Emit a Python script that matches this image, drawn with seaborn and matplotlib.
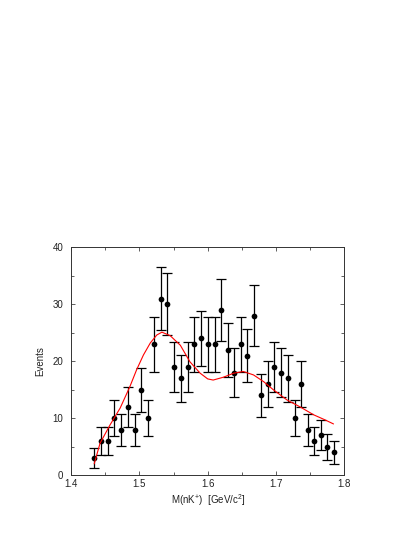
import matplotlib
matplotlib.use("Agg")
import matplotlib.pyplot as plt
import seaborn as sns
import pandas as pd

# measured points (bin centres in GeV/c^2) and event counts
mass = [1.434, 1.444, 1.454, 1.463, 1.473, 1.483, 1.493, 1.502, 1.512, 1.522,
        1.532, 1.541, 1.551, 1.561, 1.571, 1.580, 1.590, 1.600, 1.610, 1.619,
        1.629, 1.639, 1.649, 1.658, 1.668, 1.678, 1.688, 1.697, 1.707, 1.717,
        1.727, 1.736, 1.746, 1.756, 1.766, 1.775, 1.785]
events = [3, 6, 6, 10, 8, 12, 8, 15, 10, 23,
          31, 30, 19, 17, 19, 23, 24, 23, 23, 29,
          22, 18, 23, 21, 28, 14, 16, 19, 18, 17,
          10, 16, 8, 6, 7, 5, 4]
errors = [1.73, 2.45, 2.45, 3.16, 2.83, 3.46, 2.83, 3.87, 3.16, 4.80,
          5.57, 5.48, 4.36, 4.12, 4.36, 4.80, 4.90, 4.80, 4.80, 5.39,
          4.69, 4.24, 4.80, 4.58, 5.29, 3.74, 4.00, 4.36, 4.24, 4.12,
          3.16, 4.00, 2.83, 2.45, 2.65, 2.24, 2.00]

# fitted curve (red)
fit_mass = [1.434, 1.4425, 1.457, 1.472, 1.486, 1.496, 1.506, 1.516, 1.5255, 1.533,
            1.545, 1.560, 1.574, 1.589, 1.600, 1.608, 1.623, 1.638, 1.652, 1.667,
            1.682, 1.696, 1.716, 1.735, 1.755, 1.770, 1.784]
fit_events = [2.0, 5.6, 8.8, 11.8, 15.5, 18.5, 21.1, 23.2, 24.6, 25.1,
              24.5, 22.8, 19.9, 17.9, 16.9, 16.7, 17.2, 17.9, 18.2, 17.6,
              16.4, 15.0, 13.2, 12.0, 10.6, 9.8, 9.0]

data = pd.DataFrame({"mass": mass, "events": events})
fit = pd.DataFrame({"mass": fit_mass, "events": fit_events})

sns.set_style("ticks")
plt.rcParams["font.family"] = ["Liberation Sans", "DejaVu Sans"]
plt.rcParams["mathtext.default"] = "regular"

fig = plt.figure(figsize=(4.15, 5.37), dpi=100)
ax = fig.add_axes([0.171, 0.115, 0.659, 0.4246])

ax.errorbar(mass, events, yerr=errors, fmt="none", ecolor="black",
            elinewidth=0.9, capsize=3.6, capthick=0.9, zorder=2)
sns.scatterplot(data=data, x="mass", y="events", ax=ax, color="black",
                s=17, edgecolor="black", linewidth=0, zorder=3)
sns.lineplot(data=fit, x="mass", y="events", ax=ax, color="red",
             linewidth=0.8, zorder=4)

ax.set_xlim(1.4, 1.8)
ax.set_ylim(0, 40)
ax.set_xticks([1.4, 1.5, 1.6, 1.7, 1.8])
ax.set_xticks([1.45, 1.55, 1.65, 1.75], minor=True)
ax.set_yticks([0, 10, 20, 30, 40])
ax.set_yticks([5, 15, 25, 35], minor=True)
ax.tick_params(which="both", direction="in", top=True, right=True,
               labelsize=7, width=0.6, color="#444444", labelcolor="#222222")
ax.tick_params(which="major", length=3)
ax.tick_params(which="minor", length=2)
ax.tick_params(axis="y", pad=5.5)
ax.tick_params(axis="x", pad=3)
for s in ax.spines.values():
    s.set_linewidth(0.7)
    s.set_color("#333333")

ax.set_xlabel("M(nK$^{+}$)  [GeV/c$^{2}$]", fontsize=7, labelpad=2, color="#222222")
ax.set_ylabel("Events", fontsize=7, labelpad=5, color="#222222")

fig.savefig("out.png", dpi=100)
